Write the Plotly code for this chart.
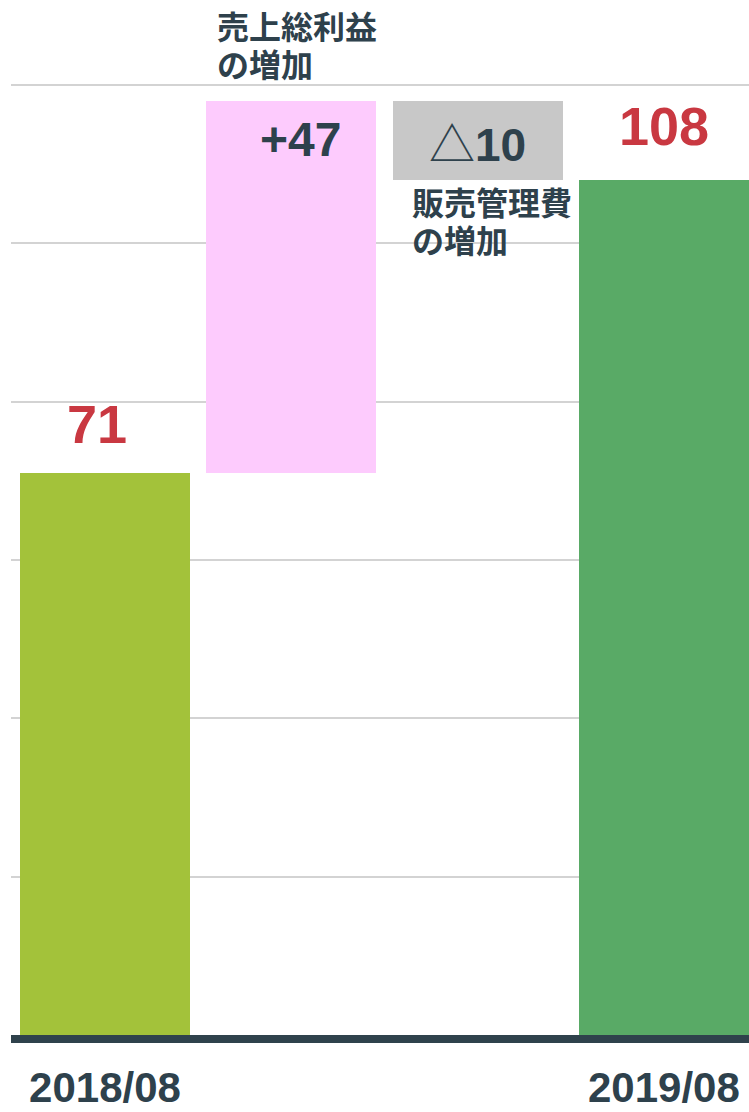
import plotly.graph_objects as go

# ---- data ----
categories = ["2018/08", "売上総利益の増加", "販売管理費の増加", "2019/08"]
values = [71, 47, -10, 108]
measures = ["absolute", "relative", "relative", "total"]
value_labels = ["71", "+47", "△10", "108"]
change_names = [["売上総利益", "の増加"], ["販売管理費", "の増加"]]
tick_labels = ["2018/08", "", "", "2019/08"]
bar_colors = ["#a3c23a", "#fdcbfd", "#c8c8c8", "#59aa66"]

DARK = "#2e414c"
RED = "#c93841"
FONT = "Liberation Sans"
JP_FONT = "Noto Sans CJK JP"
LINE_H = 38

# compute bases / heights for floating bars
bases, heights = [], []
running = 0
for m, v in zip(measures, values):
    if m == "absolute":
        bases.append(0); heights.append(v); running = v
    elif m == "relative":
        bases.append(running); heights.append(v); running += v
    else:
        bases.append(0); heights.append(v)

xs = list(range(len(categories)))


def fmt_label(s):
    if s.startswith("△"):
        return ("<span style=\"font-family:'Noto Sans CJK JP';font-weight:normal\">△</span>"
                + s[1:])
    return s


fig = go.Figure()
fig.add_trace(go.Bar(
    x=xs, y=heights, base=bases, width=0.9125,
    marker=dict(color=bar_colors, line=dict(width=0)),
    hoverinfo="skip", showlegend=False,
))

annotations = []
# totals: red labels above bars
for i, ys, xsft in ((0, 17, -8), (3, 22, 0)):
    annotations.append(dict(
        x=xs[i], y=bases[i] + heights[i], xref="x", yref="y",
        text=value_labels[i], showarrow=False, xanchor="center", yanchor="bottom",
        yshift=ys, xshift=xsft, font=dict(family=FONT, size=54, color=RED, weight="bold"),
    ))
# +47 inside pink bar near top
top1 = bases[1] + heights[1]
annotations.append(dict(
    x=xs[1], y=top1, xref="x", yref="y", text=fmt_label(value_labels[1]), showarrow=False,
    xanchor="center", yanchor="middle", yshift=-39, xshift=9,
    font=dict(family=FONT, size=48, color=DARK, weight="bold"),
))
# △10 centered in gray bar
annotations.append(dict(
    x=xs[2], y=bases[2] + heights[2] / 2, xref="x", yref="y", text=fmt_label(value_labels[2]),
    showarrow=False, xanchor="center", yanchor="middle",
    font=dict(family=FONT, size=46, color=DARK, weight="bold"),
))
# change names (one annotation per line)
jp_font = dict(family=JP_FONT, size=32, color=DARK, weight="bold")
for k, line in enumerate(change_names[0]):
    annotations.append(dict(
        x=xs[1], y=top1, xref="x", yref="y", text=line, showarrow=False,
        xanchor="left", yanchor="bottom", xshift=-76,
        yshift=13 + LINE_H * (len(change_names[0]) - 1 - k), font=jp_font,
    ))
for k, line in enumerate(change_names[1]):
    annotations.append(dict(
        x=xs[2], y=bases[2] + heights[2], xref="x", yref="y", text=line, showarrow=False,
        xanchor="left", yanchor="top", xshift=-68, yshift=4 - LINE_H * k, font=jp_font,
    ))

fig.update_layout(
    width=749, height=1112,
    margin=dict(l=11, r=0, t=6, b=77, autoexpand=False),
    paper_bgcolor="white", plot_bgcolor="white",
    bargap=0,
    annotations=annotations,
    xaxis=dict(
        range=[-0.5046, 3.4568], tickmode="array", tickvals=xs, ticktext=tick_labels,
        showgrid=False, zeroline=False, showline=True, linecolor="#2f424c", linewidth=8,
        ticks="", tickfont=dict(family=FONT, size=42, color=DARK, weight="bold"),
        ticklabelstandoff=9,
        automargin=False, fixedrange=True,
    ),
    yaxis=dict(
        range=[0, 130], dtick=20, tick0=0, showticklabels=False, ticks="",
        showgrid=True, gridcolor="#d3d3d3", gridwidth=2, zeroline=False,
        automargin=False, fixedrange=True,
    ),
)

fig.write_html("out.html", post_script="document.body.style.margin='0px';",
               config={"displayModeBar": False})
